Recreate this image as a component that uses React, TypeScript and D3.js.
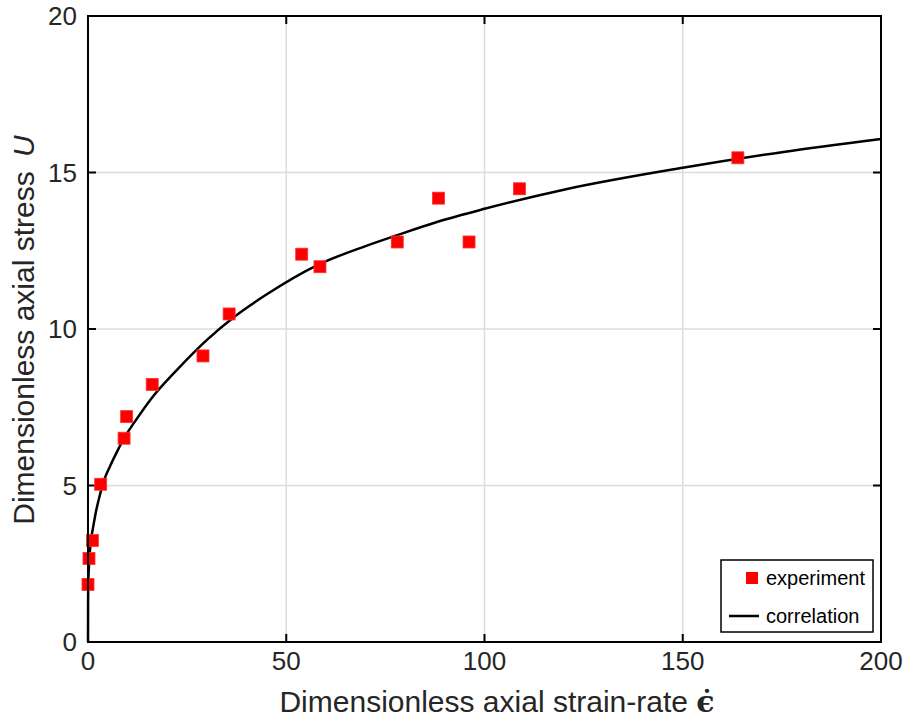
import { useEffect, useRef } from "react";
import * as d3 from "d3";

// experiment points
const expStrainRate = [0.0, 0.25, 1.1, 3.2, 9.1, 9.75, 16.2, 29, 35.6, 53.9, 58.5, 78, 88.4, 96.1, 108.8, 163.9];
const expStress = [1.84, 2.67, 3.24, 5.04, 6.51, 7.2, 8.23, 9.14, 10.48, 12.39, 11.99, 12.78, 14.18, 12.78, 14.48, 15.47];

// correlation curve, sampled along the drawn line
const corrStrainRate = [0, 0.02, 0.1, 0.35, 0.7, 1.2, 1.9, 3.0, 4.0, 5.5, 7.4, 9.5, 11.6, 15.8, 22.5, 30, 37, 45, 58, 70, 78, 88, 100, 120, 150, 175, 200];
const corrStress = [0, 1.3, 2.0, 2.65, 3.2, 3.6, 4.1, 4.7, 5.15, 5.6, 6.1, 6.6, 7.0, 7.75, 8.7, 9.65, 10.4, 11.1, 12.05, 12.65, 13.0, 13.42, 13.84, 14.45, 15.15, 15.65, 16.07];

const xTicks = [0, 50, 100, 150, 200];
const yTicks = [0, 5, 10, 15, 20];

const width = 904;
const height = 722;
const margin = { top: 16, right: 23, bottom: 80, left: 88 };
const font = "'Liberation Sans', Arial, sans-serif";
const textColor = "#262626";

const drawChart = (node: SVGSVGElement) => {
    const svg = d3.select(node);
    svg.selectAll("*").remove();

    const x = d3.scaleLinear().domain([0, 200]).range([margin.left, width - margin.right]);
    const y = d3.scaleLinear().domain([0, 20]).range([height - margin.bottom, margin.top]);
    const [x0, x1] = x.range();
    const [y0, y1] = y.range();

    svg.append("rect").attr("width", width).attr("height", height).attr("fill", "white");

    // grid
    const grid = svg.append("g").attr("stroke", "#dcdcdc").attr("stroke-width", 1.5);
    grid.selectAll("line.gx")
        .data(xTicks.slice(1, -1))
        .join("line")
            .attr("class", "gx")
            .attr("x1", d => x(d)).attr("x2", d => x(d))
            .attr("y1", y1).attr("y2", y0);
    grid.selectAll("line.gy")
        .data(yTicks.slice(1, -1))
        .join("line")
            .attr("class", "gy")
            .attr("x1", x0).attr("x2", x1)
            .attr("y1", d => y(d)).attr("y2", d => y(d));

    // ticks on all four sides, pointing inward
    const tickLen = 8;
    const ticks = svg.append("g").attr("stroke", "black").attr("stroke-width", 2);
    xTicks.forEach(t => {
        ticks.append("line").attr("x1", x(t)).attr("x2", x(t)).attr("y1", y0).attr("y2", y0 - tickLen);
        ticks.append("line").attr("x1", x(t)).attr("x2", x(t)).attr("y1", y1).attr("y2", y1 + tickLen);
    });
    yTicks.forEach(t => {
        ticks.append("line").attr("x1", x0).attr("x2", x0 + tickLen).attr("y1", y(t)).attr("y2", y(t));
        ticks.append("line").attr("x1", x1).attr("x2", x1 - tickLen).attr("y1", y(t)).attr("y2", y(t));
    });

    // correlation line
    const line = d3.line<number>()
        .x((_, i) => x(corrStrainRate[i]))
        .y(d => y(d))
        .curve(d3.curveMonotoneX);
    svg.append("path")
        .datum(corrStress)
        .attr("d", line)
        .attr("fill", "none")
        .attr("stroke", "black")
        .attr("stroke-width", 2.5);

    // experiment markers
    const ms = 12;
    svg.append("g")
        .selectAll("rect")
        .data(expStress)
        .join("rect")
            .attr("x", (_, i) => x(expStrainRate[i]) - ms / 2)
            .attr("y", d => y(d) - ms / 2)
            .attr("width", ms)
            .attr("height", ms)
            .attr("fill", "#ff0000")
            .attr("stroke", "#ff3030")
            .attr("stroke-width", 0.8);

    // axes box
    svg.append("rect")
        .attr("x", x0).attr("y", y1)
        .attr("width", x1 - x0).attr("height", y0 - y1)
        .attr("fill", "none")
        .attr("stroke", "black")
        .attr("stroke-width", 2);

    // tick labels
    const labels = svg.append("g").attr("font-family", font).attr("font-size", 26).attr("fill", textColor);
    labels.selectAll("text.xt")
        .data(xTicks)
        .join("text")
            .attr("class", "xt")
            .attr("x", d => x(d))
            .attr("y", y0 + 28)
            .attr("text-anchor", "middle")
            .text(d => d);
    labels.selectAll("text.yt")
        .data(yTicks)
        .join("text")
            .attr("class", "yt")
            .attr("x", x0 - 11)
            .attr("y", d => y(d) + 9)
            .attr("text-anchor", "end")
            .text(d => d);

    // x axis title
    const xt = svg.append("text")
        .attr("font-family", font)
        .attr("font-size", 30)
        .attr("fill", textColor)
        .attr("x", 497)
        .attr("y", 712)
        .attr("text-anchor", "middle");
    xt.append("tspan").text("Dimensionless axial strain-rate ");
    xt.append("tspan")
        .attr("font-weight", "bold")
        .attr("font-family", "'DejaVu Serif', serif")
        .attr("font-size", 30)
        .text("\u03f5\u0307");

    // y axis title
    const yt = svg.append("text")
        .attr("font-family", font)
        .attr("font-size", 30)
        .attr("fill", textColor)
        .attr("text-anchor", "middle")
        .attr("transform", `translate(34,${(y0 + y1) / 2 + 1}) rotate(-90)`);
    yt.append("tspan").text("Dimensionless axial stress ");
    yt.append("tspan").attr("font-style", "italic").attr("dx", 6).text("U");

    // legend
    const lg = svg.append("g").attr("font-family", font).attr("font-size", 20).attr("fill", "black");
    lg.append("rect")
        .attr("x", 721).attr("y", 560).attr("width", 152).attr("height", 72)
        .attr("fill", "white").attr("stroke", "black").attr("stroke-width", 1.5);
    lg.append("rect")
        .attr("x", 752 - ms / 2).attr("y", 578 - ms / 2).attr("width", ms).attr("height", ms)
        .attr("fill", "#ff0000");
    lg.append("text").attr("x", 766).attr("y", 585).text("experiment");
    lg.append("line")
        .attr("x1", 729).attr("x2", 759).attr("y1", 616).attr("y2", 616)
        .attr("stroke", "black").attr("stroke-width", 2.5);
    lg.append("text").attr("x", 766).attr("y", 623).text("correlation");
};

export default function App() {
    const ref = useRef<SVGSVGElement>(null);

    useEffect(() => {
        if (ref.current) drawChart(ref.current);
    }, []);

    return (
        <svg
            ref={ref}
            width={width}
            height={height}
            style={{ position: "absolute", left: 0, top: 0 }}
        />
    );
}
